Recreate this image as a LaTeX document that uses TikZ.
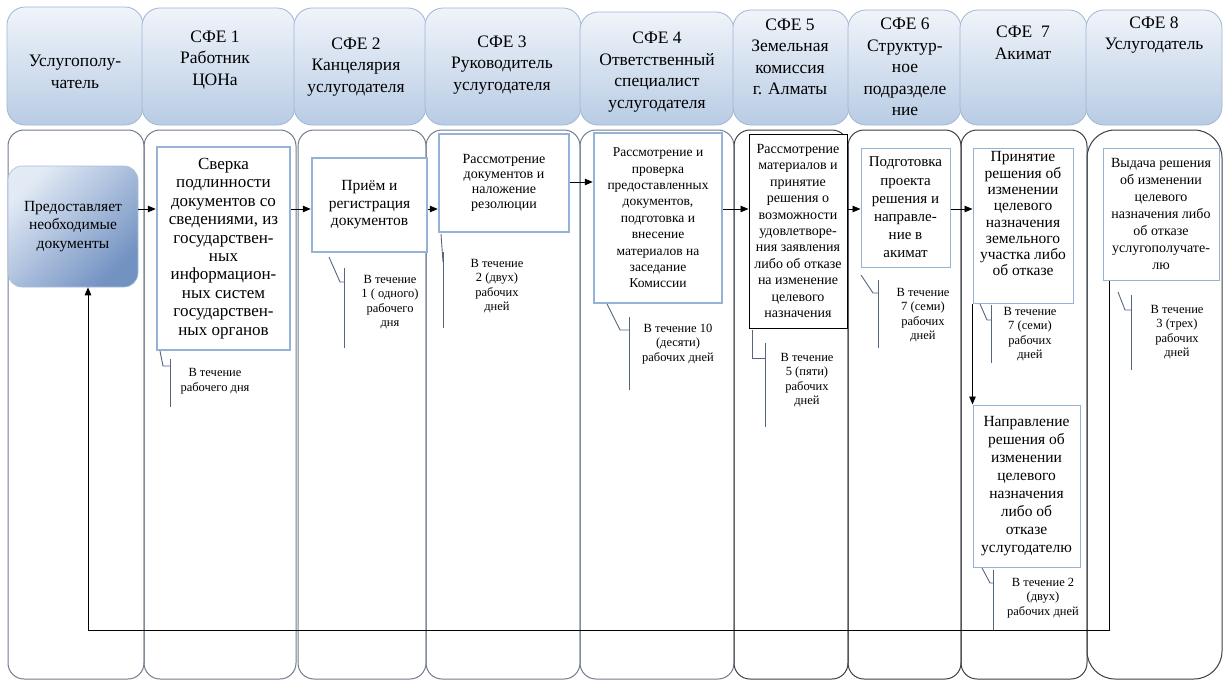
\documentclass[tikz,border=0pt]{standalone}
\usepackage{fontspec}
\setmainfont{Liberation Serif}
\usetikzlibrary{arrows.meta}
\definecolor{hd1}{RGB}{240,244,250}
\definecolor{hd2}{RGB}{184,204,228}
\definecolor{hdl}{RGB}{160,182,212}
\definecolor{ln1}{RGB}{112,124,140}
\definecolor{ln2}{RGB}{62,62,66}
\definecolor{bx1}{RGB}{149,179,215}
\definecolor{cl1}{RGB}{84,102,128}
\definecolor{sd1}{RGB}{226,234,245}
\definecolor{sd2}{RGB}{114,146,194}

\begin{document}
\begin{tikzpicture}[
    x=1pt, y=-1pt,
    hdr/.style={
        draw=hdl, line width=0.8pt, rounded corners=18pt,
        top color=hd1, bottom color=hd2
    },
    lane/.style={
        draw=ln1, line width=1pt, rounded corners=16pt
    },
    lanek/.style={
        lane, draw=ln2
    },
    ht/.style={
        align=center, font=\fontsize{17.5}{21.5}\selectfont
    },
    tsk/.style={
        draw=bx1, fill=white, align=center, inner sep=0pt
    },
    thk/.style={
        tsk, line width=2.5pt
    },
    thn/.style={
        tsk, line width=1pt
    },
    b0/.style={
        draw=sd2!60, line width=0.6pt, rounded corners=14pt,
        top color=sd1, bottom color=sd2, shading angle=45,
        align=center, inner sep=0pt,
        font=\fontsize{15.5}{18.5}\selectfont
    },
    arr/.style={
        line width=0.9pt, -{Triangle[length=8pt,width=6.5pt]}
    },
    cal/.style={
        draw=cl1, line width=0.9pt
    },
    dur/.style={
        align=center, font=\fontsize{12.5}{14.5}\selectfont
    }
]

    \path[use as bounding box, clip] (0,0) rectangle (1225,680);

    % swimlanes
    \foreach \xa/\xb in {8/144, 144/296, 298/426, 426/580, 580/734}
        \draw[lane] (\xa,130) rectangle (\xb,679);
    \foreach \xa/\xb in {734/848, 848/961, 961/1087}
        \draw[lanek] (\xa,130) rectangle (\xb,679);
    \draw[lanek, rounded corners=28pt] (1087,130) rectangle (1222,679);

    % header boxes
    \foreach \xa/\xb/\ya in {7/143/7, 142/295/8, 294/426/8, 425/581/8, 580/734/12,
                             733/849/10, 848/961/10, 960/1087/10, 1086/1222/10}
        \draw[hdr] (\xa,\ya) rectangle (\xb,125);

    \node [ht] (h0) at (75,72)    {Услугополу-\\чатель};
    \node [ht] (h1) at (215,60)   {СФЕ 1\\Работник\\ЦОНа};
    \node [ht] (h2) at (356,67)   {СФЕ 2\\Канцелярия\\услугодателя};
    \node [ht] (h3) at (502,65)   {СФЕ 3\\Руководитель\\услугодателя};
    \node [ht] (h4) at (657,72)   {СФЕ 4\\Ответственный\\специалист\\услугодателя};
    \node [ht] (h5) at (790,57)   {СФЕ 5\\Земельная\\комиссия\\г. Алматы};
    \node [ht] (h6) at (905,67)   {СФЕ 6\\Структур-\\ное\\подразделе\\ние};
    \node [ht] (h7) at (1023,43)  {СФЕ\ \ 7\\Акимат};
    \node [ht] (h8) at (1154,35)  {СФЕ 8\\Услугодатель};

    % steps
    \node [b0] (p0) at (73,226.5) [minimum width=130pt, minimum height=121pt]
        {Предоставляет\\необходимые\\документы};
    \node [thk, font=\fontsize{17}{18.4}\selectfont] (p1) at (223.5,248.5)
        [minimum width=133pt, minimum height=203pt]
        {Сверка\\подлинности\\документов со\\сведениями, из\\государствен-\\ных\\информацион-\\ных систем\\государствен-\\ных органов};
    \node [thk, font=\fontsize{15.5}{17.5}\selectfont] (p2) at (369.5,205)
        [minimum width=115pt, minimum height=94pt]
        {Приём и\\регистрация\\документов};
    \node [thk, font=\fontsize{14}{15}\selectfont] (p3) at (504,183)
        [minimum width=130pt, minimum height=98pt]
        {Рассмотрение\\документов и\\наложение\\резолюции};
    \node [thk, font=\fontsize{13.5}{16.4}\selectfont] (p4) at (658,218)
        [minimum width=128pt, minimum height=170pt]
        {Рассмотрение и\\проверка\\предоставленных\\документов,\\подготовка и\\внесение\\материалов на\\заседание\\Комиссии};
    \node [tsk, draw=black, line width=1pt, font=\fontsize{14}{16.4}\selectfont] (p5) at (798,231)
        [minimum width=98pt, minimum height=194pt]
        {Рассмотрение\\материалов и\\принятие\\решения о\\возможности\\удовлетворе-\\ния заявления\\либо об отказе\\на изменение\\целевого\\назначения};
    \node [thn, font=\fontsize{15}{18.2}\selectfont] (p6) at (905.5,207.5)
        [minimum width=89pt, minimum height=119pt]
        {Подготовка\\проекта\\решения и\\направле-\\ние в\\акимат};
    \node [thn, font=\fontsize{15.5}{16.3}\selectfont] (p7) at (1023,225.5)
        [minimum width=100pt, minimum height=155pt]
        {Принятие\\решения об\\изменении\\целевого\\назначения\\земельного\\участка либо\\об отказе\\[7pt]~};
    \node [thn, font=\fontsize{14}{17}\selectfont] (p8) at (1161,214)
        [minimum width=116pt, minimum height=132pt]
        {Выдача решения\\об изменении\\целевого\\назначения либо\\об отказе\\услугополучате-\\лю};
    \node [thn, font=\fontsize{15.5}{17.9}\selectfont] (p9) at (1026.5,486)
        [minimum width=107pt, minimum height=162pt]
        {Направление\\решения об\\изменении\\целевого\\назначения\\либо об\\отказе\\услугодателю};

    % flow
    \coordinate (r1) at (0,209);
    \coordinate (r2) at (0,182);
    \draw [arr] (p0.east |- r1) -- (p1.west |- r1);
    \draw [arr] (p1.east |- r1) -- (p2.west |- r1);
    \draw [arr] (p2.east |- r1) -- (p3.west |- r1);
    \draw [arr] (p3.east |- r2) -- (p4.west |- r2);
    \draw [arr] (p4.east |- r1) -- (p5.west |- r1);
    \draw [arr] (p5.east |- r1) -- (p6.west |- r1);
    \draw [arr] (p6.east |- r1) -- (p7.west |- r1);
    \draw [arr] (p7.south west) -- (p9.north west);

    \coordinate (rb) at (1109,630);
    \coordinate (lb) at (88,630);
    \draw [arr] (p8.south -| rb) -- (rb) -- (lb) -- (lb |- p0.south);

    % time callouts
    \draw [cal] (160,351) -- (163,366) -- (170,366);
    \draw [cal] (170,359) -- (170,407);
    \node [dur] (t1) at (215,381) {В течение\\рабочего дня};

    \draw [cal] (329,257) -- (340,282) -- (344,282);
    \draw [cal] (344,268) -- (344,348);
    \node [dur] (t2) at (390,302) {В течение\\1 ( одного)\\рабочего\\дня};

    \draw [cal] (441,234) -- (443,262);
    \draw [cal] (443,252) -- (443,328);
    \node [dur] (t3) at (497,286) {В течение\\2 (двух)\\рабочих\\дней};

    \draw [cal] (607,304) -- (620,330) -- (629,330);
    \draw [cal] (629,317) -- (629,390);
    \node [dur] (t4) at (678,344) {В течение 10\\(десяти)\\рабочих дней};

    \draw [cal] (752,330) -- (752,358) -- (765,358);
    \draw [cal] (765,343) -- (765,427);
    \node [dur] (t5) at (807,380) {В течение\\5 (пяти)\\рабочих\\дней};

    \draw [cal] (861,275) -- (873,293) -- (878,293);
    \draw [cal] (878,280) -- (878,348);
    \node [dur] (t6) at (923,315) {В течение\\7 (семи)\\рабочих\\дней};

    \draw [cal] (980,304) -- (987,320) -- (991,320);
    \draw [cal] (991,305) -- (991,363);
    \node [dur] (t7) at (1030,334) {В течение\\7 (семи)\\рабочих\\дней};

    \draw [cal] (1118,292) -- (1125,310) -- (1131,310);
    \draw [cal] (1131,295) -- (1131,370);
    \node [dur] (t8) at (1177,332) {В течение\\3 (трех)\\рабочих\\дней};

    \draw [cal] (982,568) -- (990,583) -- (993,583);
    \draw [cal] (993,570) -- (993,630);
    \node [dur] (t9) at (1043,598) {В течение 2\\(двух)\\рабочих дней};

\end{tikzpicture}
\end{document}
